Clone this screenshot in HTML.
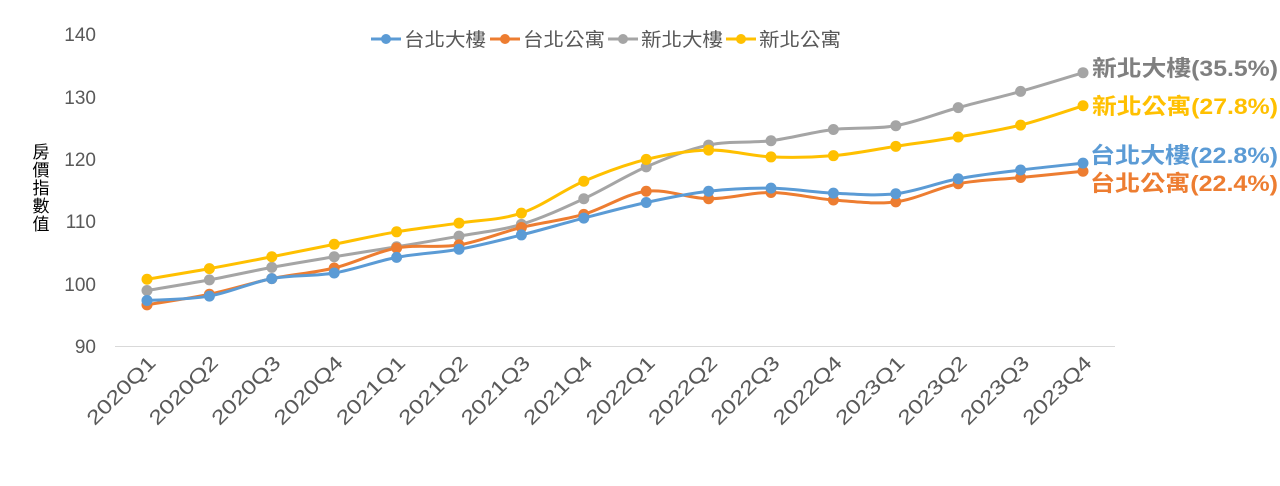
<!DOCTYPE html>
<html><head><meta charset="utf-8"><style>
html,body{margin:0;padding:0;background:#fff;}
svg{display:block;font-family:"Liberation Sans","Noto Sans CJK TC",sans-serif;}
</style></head><body>
<svg id="s" width="1280" height="486" viewBox="0 0 1280 486">
<g font-size="19" fill="#595959" text-anchor="end">
<text x="96" y="41">140</text><text x="96" y="104">130</text><text x="96" y="166">120</text>
<text x="96" y="228">110</text><text x="96" y="291">100</text><text x="96" y="353">90</text>
</g>
<line x1="115" y1="346.5" x2="1115" y2="346.5" stroke="#d9d9d9" stroke-width="1"/>
<g font-size="17" fill="#000" text-anchor="middle">
<text x="41" y="158">房</text><text x="41" y="176">價</text><text x="41" y="194">指</text><text x="41" y="212">數</text><text x="41" y="230">值</text>
</g>
<g id="xl" font-size="20" fill="#595959" text-anchor="end"></g>
<g id="lines"></g>
<g font-size="19" fill="#595959">
<line x1="371" y1="39" x2="401" y2="39" stroke="#5B9BD5" stroke-width="3"/><circle cx="386" cy="39" r="5" fill="#5B9BD5"/><text x="404" y="46" textLength="82" lengthAdjust="spacingAndGlyphs">台北大樓</text>
<line x1="490" y1="39" x2="520" y2="39" stroke="#ED7D31" stroke-width="3"/><circle cx="505" cy="39" r="5" fill="#ED7D31"/><text x="523" y="46" textLength="82" lengthAdjust="spacingAndGlyphs">台北公寓</text>
<line x1="608" y1="39" x2="638" y2="39" stroke="#A5A5A5" stroke-width="3"/><circle cx="623" cy="39" r="5" fill="#A5A5A5"/><text x="641" y="46" textLength="82" lengthAdjust="spacingAndGlyphs">新北大樓</text>
<line x1="726" y1="39" x2="756" y2="39" stroke="#FFC000" stroke-width="3"/><circle cx="741" cy="39" r="5" fill="#FFC000"/><text x="759" y="46" textLength="82" lengthAdjust="spacingAndGlyphs">新北公寓</text>
</g>
<g font-size="22" font-weight="bold">
<text x="1092" y="76" fill="#7f7f7f" textLength="186" lengthAdjust="spacingAndGlyphs">新北大樓(35.5%)</text>
<text x="1092" y="114" fill="#FFC000" textLength="186" lengthAdjust="spacingAndGlyphs">新北公寓(27.8%)</text>
<text x="1090" y="163" fill="#5B9BD5" textLength="188" lengthAdjust="spacingAndGlyphs">台北大樓(22.8%)</text>
<text x="1090" y="191" fill="#ED7D31" textLength="188" lengthAdjust="spacingAndGlyphs">台北公寓(22.4%)</text>
</g>
</svg>
<script>
var ns="http://www.w3.org/2000/svg";
var X=function(i){return 147+i*62.4}, Y=function(v){return 346-(v-90)*6.24};
var q=[];for(var y=2020;y<=2023;y++)for(var k=1;k<=4;k++)q.push(y+"Q"+k);
var xl=document.getElementById("xl");
q.forEach(function(t,i){var x=X(i)+10;var e=document.createElementNS(ns,"text");e.setAttribute("x",x);e.setAttribute("y",364);e.setAttribute("textLength","88");e.setAttribute("lengthAdjust","spacingAndGlyphs");e.setAttribute("transform","rotate(-45 "+x+" 364)");e.textContent=t;xl.appendChild(e);});
var S=[
["#A5A5A5",[98.9,100.6,102.6,104.3,105.9,107.6,109.5,113.6,118.7,122.2,122.9,124.7,125.3,128.2,130.8,133.8]],
["#FFC000",[100.7,102.4,104.3,106.3,108.3,109.7,111.3,116.4,119.9,121.4,120.3,120.5,122,123.5,125.4,128.5]],
["#ED7D31",[96.6,98.3,100.8,102.5,105.7,106.2,109,111.1,114.8,113.6,114.6,113.4,113.1,116,117,118]],
["#5B9BD5",[97.3,98,100.8,101.7,104.2,105.5,107.8,110.5,113,114.8,115.3,114.5,114.4,116.8,118.2,119.3]]];
var g=document.getElementById("lines");
S.forEach(function(s){var p=s[1].map(function(v,i){return[X(i),Y(v)]});
var d="M"+p[0][0]+","+p[0][1];
for(var i=0;i<p.length-1;i++){var p0=p[i-1]||p[i],p1=p[i],p2=p[i+1],p3=p[i+2]||p2;
d+=" C"+(p1[0]+(p2[0]-p0[0])/6)+","+(p1[1]+(p2[1]-p0[1])/6)+" "+(p2[0]-(p3[0]-p1[0])/6)+","+(p2[1]-(p3[1]-p1[1])/6)+" "+p2[0]+","+p2[1];}
var pa=document.createElementNS(ns,"path");pa.setAttribute("d",d);pa.setAttribute("fill","none");pa.setAttribute("stroke",s[0]);pa.setAttribute("stroke-width","3");g.appendChild(pa);
p.forEach(function(c){var ci=document.createElementNS(ns,"circle");ci.setAttribute("cx",c[0]);ci.setAttribute("cy",c[1]);ci.setAttribute("r","5.5");ci.setAttribute("fill",s[0]);g.appendChild(ci);});});
</script>
</body></html>
